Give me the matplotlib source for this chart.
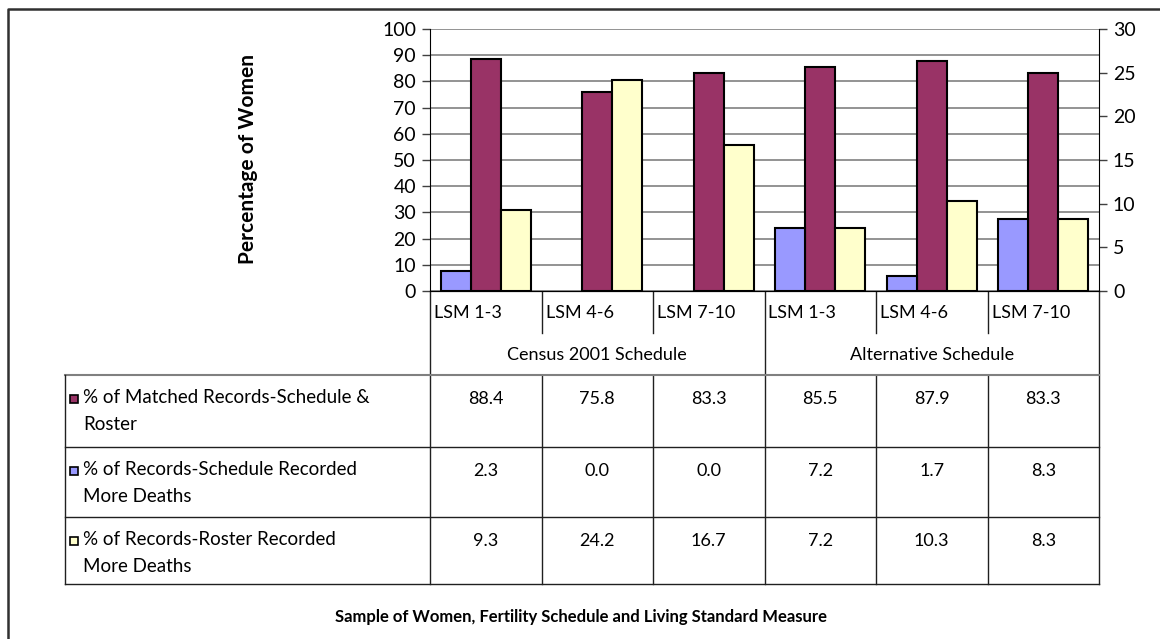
import matplotlib.pyplot as plt
from matplotlib.patches import Rectangle

plt.rcParams['font.family'] = ['Lato', 'DejaVu Sans']

# datos
groups = ['Census 2001 Schedule', 'Alternative Schedule']
lsm = ['LSM 1-3', 'LSM 4-6', 'LSM 7-10', 'LSM 1-3', 'LSM 4-6', 'LSM 7-10']
matched = [88.4, 75.8, 83.3, 85.5, 87.9, 83.3]
sched_more = [2.3, 0.0, 0.0, 7.2, 1.7, 8.3]
roster_more = [9.3, 24.2, 16.7, 7.2, 10.3, 8.3]
series_names = ['% of Matched Records-Schedule &\nRoster',
                '% of Records-Schedule Recorded\nMore Deaths',
                '% of Records-Roster Recorded\nMore Deaths']
c_matched, c_sched, c_roster = '#993366', '#9999FF', '#FFFFCC'

W, H = 1160, 639
fig = plt.figure(figsize=(W / 100, H / 100), dpi=100)

# capa de fondo en pixeles para la tabla y el marco
bg = fig.add_axes([0, 0, 1, 1])
bg.set_xlim(0, W)
bg.set_ylim(H, 0)
bg.axis('off')

x0, x1, ytop, ybot = 430, 1099, 29, 291
ax = fig.add_axes([x0 / W, 1 - ybot / H, (x1 - x0) / W, (ybot - ytop) / H])
ax2 = ax.twinx()

n = len(lsm)
bw = 0.27
xs = list(range(n))
ax.bar(xs, matched, bw, color=c_matched, edgecolor='black', lw=1.5, zorder=3)
# las barras con valor 0 no se ven en el original
ax2.bar([x - bw for x in xs], sched_more, bw, color=c_sched, edgecolor='black',
        lw=[1.5 if v > 0 else 0 for v in sched_more], zorder=3)
ax2.bar([x + bw for x in xs], roster_more, bw, color=c_roster, edgecolor='black',
        lw=[1.5 if v > 0 else 0 for v in roster_more], zorder=3)

ax.set_xlim(-0.5, n - 0.5)
ax.set_ylim(0, 100)
ax2.set_ylim(0, 30)
ax.set_yticks(range(0, 101, 10))
ax2.set_yticks(range(0, 31, 5))
ax.set_xticks([])
ax.grid(axis='y', color='#808080', lw=1.2, zorder=0)
ax.set_axisbelow(True)
for a in (ax, ax2):
    a.spines['top'].set_visible(False)
    a.tick_params(axis='y', direction='out', length=6, width=1, labelsize=14, pad=4, color='#404040')
ax.spines['right'].set_visible(False)
ax2.spines['left'].set_visible(False)

# tabla de datos
cw = (x1 - x0) / n
lc = '#202020'
for k in range(n + 1):
    xk = x0 + k * cw
    if k % 3 == 0:
        bg.plot([xk, xk], [ybot, 584], color=lc, lw=1)
    else:
        bg.plot([xk, xk], [ybot, 333], color=lc, lw=1)
        bg.plot([xk, xk], [375, 584], color=lc, lw=1)
for i, lab in enumerate(lsm):
    bg.text(x0 + i * cw + 4, 313, lab, fontsize=13, ha='left', va='center')
for g, name in enumerate(groups):
    bg.text(x0 + (g * 3 + 1.5) * cw, 355, name, fontsize=13, ha='center', va='center')

bg.plot([65, x1], [375, 375], color='#808080', lw=1.5)
for yy in (447, 517, 584):
    bg.plot([65, x1], [yy, yy], color=lc, lw=1)
bg.plot([65, 65], [375, 584], color=lc, lw=1)

rows = [matched, sched_more, roster_more]
colors = [c_matched, c_sched, c_roster]
row_tops = [375, 447, 517]
for r in range(3):
    yt = row_tops[r]
    bg.add_patch(Rectangle((70, yt + 20), 8, 8, facecolor=colors[r], edgecolor='black', lw=1.2))
    bg.text(83, yt + 14, series_names[r], fontsize=13.5, ha='left', va='top', linespacing=1.75)
    for i in range(n):
        bg.text(x0 + (i + 0.5) * cw, yt + 24, f'{rows[r][i]:.1f}', fontsize=13, ha='center', va='center')

# titulos
bg.text(248, 159, 'Percentage of Women', fontsize=15, fontweight='bold', rotation=90, ha='center', va='center')
bg.text(581, 617, 'Sample of Women, Fertility Schedule and Living Standard Measure',
        fontsize=12, fontweight='bold', ha='center', va='center')

# marco exterior
bg.plot([8, 8, W + 5], [H + 5, 9, 9], color='#303030', lw=1.8)

fig.savefig('out.png', dpi=100)
